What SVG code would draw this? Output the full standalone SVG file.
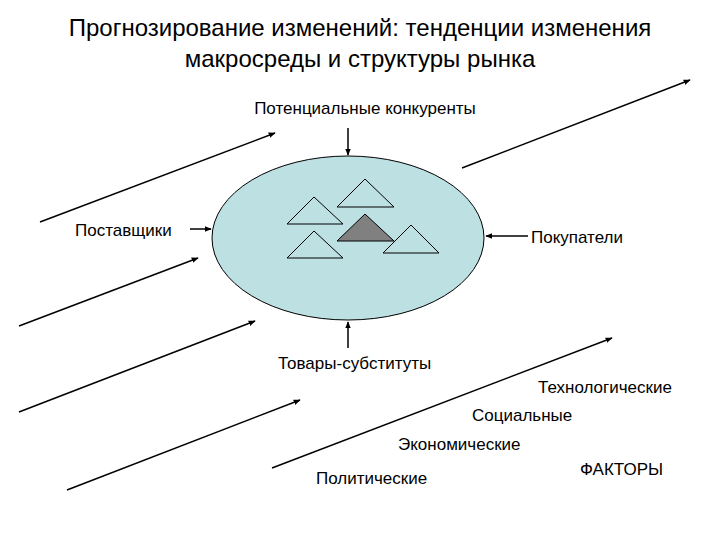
<svg xmlns="http://www.w3.org/2000/svg" width="720" height="540" viewBox="0 0 720 540">
<style>
text{font-family:"Liberation Sans",Arial,sans-serif;font-size:17px;fill:#000}
.t{font-size:24px}
.c line{stroke:#000;stroke-width:1.5;marker-end:url(#a)}
.tri{fill:#bde0e3;stroke:#000;stroke-width:1}
</style>
<defs><marker id="a" viewBox="0 0 10 10" refX="9" refY="5" markerWidth="7" markerHeight="7" orient="auto" markerUnits="userSpaceOnUse"><path d="M0,1L10,5L0,9z" fill="#000"/></marker></defs>
<rect width="720" height="540" fill="#fff"/>
<text class="t" x="360" y="36" text-anchor="middle">Прогнозирование изменений: тенденции изменения</text>
<text class="t" x="360" y="67" text-anchor="middle">макросреды и структуры рынка</text>
<g id="market">
<ellipse cx="348" cy="238" rx="136" ry="82" fill="#bde0e3" stroke="#000"/>
<polygon class="tri" points="314,197 287,224 343,224"/>
<polygon class="tri" points="365,179 337,207 394,207"/>
<polygon class="tri" points="314,231 287,258 343,258"/>
<polygon points="365,214 337,241 394,241" fill="#808080" stroke="#000"/>
<polygon class="tri" points="411,225 383,253 439,253"/>
</g>
<g class="c" id="connectors">
<line x1="348" y1="128" x2="348" y2="155"/>
<line x1="190" y1="229" x2="211" y2="229"/>
<line x1="528" y1="236" x2="486" y2="236"/>
<line x1="348" y1="348" x2="348" y2="322"/>
<line x1="40" y1="222" x2="275" y2="133"/>
<line x1="462" y1="168" x2="690" y2="80"/>
<line x1="19" y1="326" x2="198" y2="258"/>
<line x1="19" y1="412" x2="255" y2="321"/>
<line x1="67" y1="490" x2="300" y2="400"/>
<line x1="272" y1="468" x2="612" y2="338"/>
</g>
<g id="labels">
<text x="365" y="114" text-anchor="middle">Потенциальные конкуренты</text>
<text x="75" y="236">Поставщики</text>
<text x="531" y="243">Покупатели</text>
<text x="278" y="369">Товары-субституты</text>
<text x="538" y="393">Технологические</text>
<text x="472" y="421">Социальные</text>
<text x="398" y="450">Экономические</text>
<text x="316" y="484">Политические</text>
<text x="580" y="475">ФАКТОРЫ</text>
</g>
</svg>
